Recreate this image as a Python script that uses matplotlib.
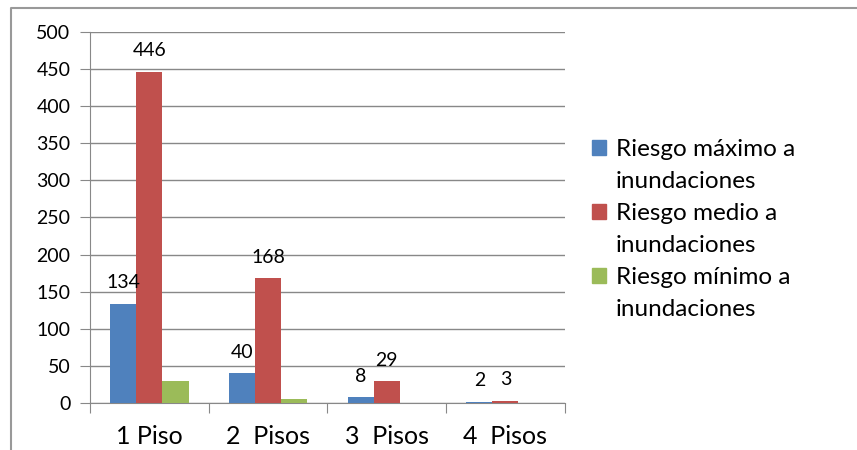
import matplotlib.pyplot as plt
import numpy as np
from matplotlib.lines import Line2D
from matplotlib.patches import Rectangle

plt.rcParams["font.family"] = ["Lato", "DejaVu Sans"]

# Datos del grafico
categorias = ["1 Piso", "2  Pisos", "3  Pisos", "4  Pisos"]
riesgo_maximo = [134, 40, 8, 2]
riesgo_medio = [446, 168, 29, 3]
riesgo_minimo = [30, 6, 0, 0]
etiquetas_serie = ["Riesgo máximo a", "Riesgo medio a", "Riesgo mínimo a"]
colores = ["#4F81BD", "#C0504D", "#9BBB59"]

fig = plt.figure(figsize=(8.57, 4.5), dpi=100)
ax = fig.add_axes([0.105, 0.1044, 0.554, 0.825])

x = np.arange(len(categorias))
ancho = 0.22
series = [riesgo_maximo, riesgo_medio, riesgo_minimo]
for i, (vals, col) in enumerate(zip(series, colores)):
    ax.bar(x + (i - 1) * ancho, vals, width=ancho, color=col, zorder=3)

# Etiquetas de datos (solo riesgo maximo y medio)
for i, vals in enumerate(series[:2]):
    for xi, v in zip(x, vals):
        ax.annotate(str(v), (xi + (i - 1) * ancho, v), xytext=(0, 9),
                    textcoords="offset points", ha="center", va="bottom",
                    fontsize=14)

ax.set_xlim(-0.5, len(categorias) - 0.5)
ax.set_ylim(0, 500)
ax.set_yticks(np.arange(0, 501, 50))
ax.yaxis.grid(True, color="#888888", linewidth=1, zorder=0)
ax.set_axisbelow(True)

ax.set_xticks(np.arange(-0.5, len(categorias), 1))
ax.set_xticklabels([])
ax.set_xticks(x, minor=True)
ax.set_xticklabels(categorias, minor=True, fontsize=18)
ax.tick_params(axis="x", which="major", length=7, color="#888888")
ax.tick_params(axis="x", which="minor", length=0, pad=16)
ax.tick_params(axis="y", length=7, color="#888888", labelsize=14, pad=7)

for lado in ["top", "right"]:
    ax.spines[lado].set_visible(False)
for lado in ["left", "bottom"]:
    ax.spines[lado].set_color("#888888")

# Leyenda: cada serie en dos lineas, el cuadro alineado con la primera
handles = []
labels = []
for col, et in zip(colores, etiquetas_serie):
    handles.append(Rectangle((0, 0), 1, 1, color=col))
    labels.append(et)
    handles.append(Rectangle((0, 0), 1, 1, alpha=0))
    labels.append("inundaciones")
fig.legend(handles, labels, loc="center left", bbox_to_anchor=(0.68, 0.49),
           frameon=False, fontsize=17.5, handlelength=0.55, handleheight=0.55,
           handletextpad=0.4, labelspacing=0.45, borderaxespad=0)

# Borde exterior del grafico (solo izquierda y arriba visibles)
fig.add_artist(Line2D([11 / 857, 11 / 857, 1.0], [0.0, 1 - 8 / 450, 1 - 8 / 450],
                      transform=fig.transFigure, color="#999999", linewidth=1.5))

fig.savefig("out.png", dpi=100)
